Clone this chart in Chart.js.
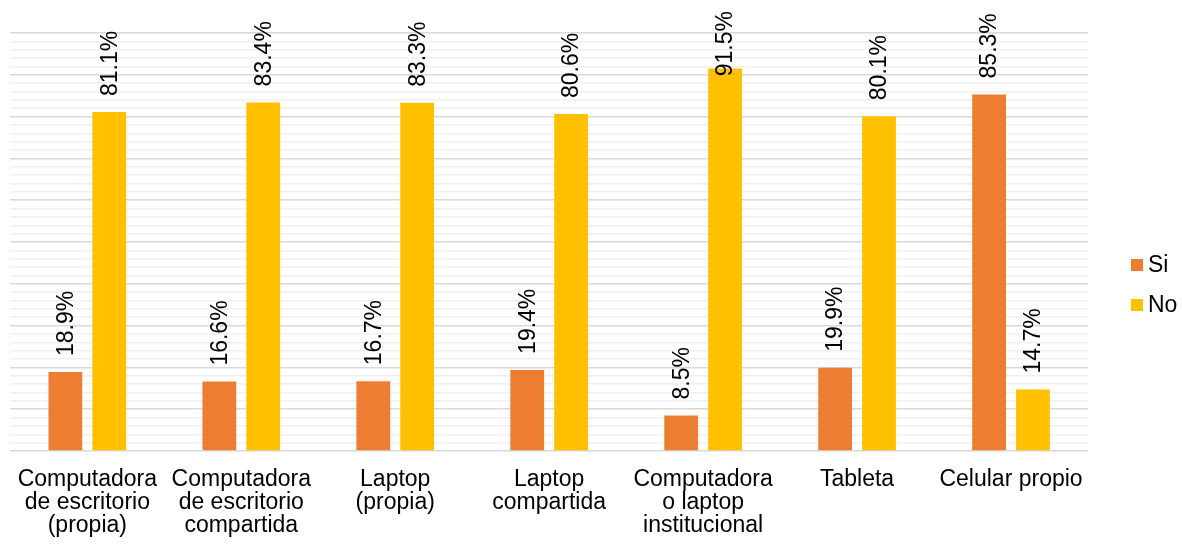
<!DOCTYPE html>
<html>
<head>
<meta charset="utf-8">
<script src="https://cdn.jsdelivr.net/npm/chart.js@4.4.1/dist/chart.umd.min.js"></script>
<style>
  html, body { margin: 0; padding: 0; background: #fff; }
  #wrap { width: 1182px; height: 545px; }
</style>
</head>
<body>
<div id="wrap"><canvas id="grafico"></canvas></div>
<script>
/* Acceso a dispositivos: Si / No por tipo de equipo */

const categorias = [
  ['Computadora', 'de escritorio', '(propia)'],
  ['Computadora', 'de escritorio', 'compartida'],
  ['Laptop', '(propia)'],
  ['Laptop', 'compartida'],
  ['Computadora', 'o laptop', 'institucional'],
  'Tableta',
  'Celular propio'
];
const valoresSi = [18.9, 16.6, 16.7, 19.4, 8.5, 19.9, 85.3];
const valoresNo = [81.1, 83.4, 83.3, 80.6, 91.5, 80.1, 14.7];

const FUENTE = 'Arial, "Liberation Sans", sans-serif';

/* etiquetas verticales encima de cada barra; si no caben arriba se bajan sobre la barra */
const etiquetasBarras = {
  id: 'etiquetasBarras',
  afterDatasetsDraw(chart) {
    const ctx = chart.ctx;
    ctx.save();
    ctx.font = '23px ' + FUENTE;
    ctx.fillStyle = '#000';
    ctx.textAlign = 'left';
    ctx.textBaseline = 'middle';
    chart.data.datasets.forEach((ds, i) => {
      chart.getDatasetMeta(i).data.forEach((bar, j) => {
        const txt = ds.data[j].toFixed(1) + '%';
        const ancho = ctx.measureText(txt).width;
        const base = Math.max(bar.y - 16, 11 + ancho);
        ctx.save();
        ctx.translate(bar.x + 1, base);
        ctx.rotate(-Math.PI / 2);
        ctx.fillText(txt, 0, 0);
        ctx.restore();
      });
    });
    ctx.restore();
  }
};

/* leyenda a la derecha: cuadro pequeño y texto pegado */
const leyenda = {
  id: 'leyenda',
  afterDraw(chart) {
    const ctx = chart.ctx;
    ctx.save();
    ctx.font = '23px ' + FUENTE;
    ctx.textAlign = 'left';
    ctx.textBaseline = 'middle';
    chart.data.datasets.forEach((ds, i) => {
      const y = 265 + i * 40;
      ctx.fillStyle = ds.backgroundColor;
      ctx.fillRect(1131, y - 6, 12, 12);
      ctx.fillStyle = '#000';
      ctx.fillText(ds.label, 1148, y + 1);
    });
    ctx.restore();
  }
};

new Chart(document.getElementById('grafico'), {
  type: 'bar',
  data: {
    labels: categorias,
    datasets: [
      { label: 'Si', data: valoresSi, backgroundColor: '#ED7D31', categoryPercentage: 0.57, barPercentage: 0.77 },
      { label: 'No', data: valoresNo, backgroundColor: '#FFC000', categoryPercentage: 0.57, barPercentage: 0.77 }
    ]
  },
  options: {
    responsive: true,
    maintainAspectRatio: false,
    animation: false,
    layout: { padding: { top: 33, left: 9, right: 94, bottom: 0 } },
    plugins: {
      tooltip: { enabled: false },
      legend: { display: false }
    },
    scales: {
      x: {
        grid: { display: false, drawTicks: false },
        border: { display: false },
        afterFit: s => { s.height = 94; },
        ticks: {
          autoSkip: false, maxRotation: 0, minRotation: 0, padding: 17,
          color: '#000',
          font: { family: FUENTE, size: 23, lineHeight: 1 }
        }
      },
      y: {
        min: 0, max: 100,
        grid: {
          drawTicks: false,
          lineWidth: 1.5,
          color: c => c.tick.value % 10 === 0 ? '#d9d9d9' : '#f0f0f0'
        },
        border: { display: false },
        ticks: { display: false, stepSize: 2 }
      }
    }
  },
  plugins: [etiquetasBarras, leyenda]
});
</script>
</body>
</html>
